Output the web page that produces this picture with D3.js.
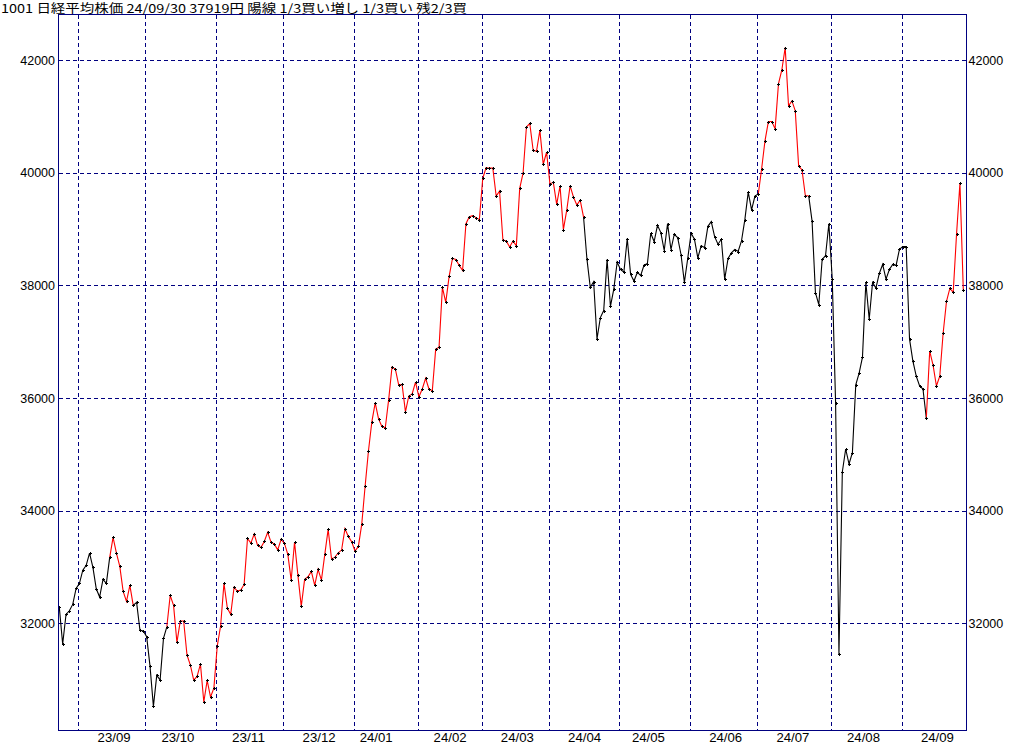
<!DOCTYPE html>
<html>
<head>
<meta charset="utf-8">
<script src="https://cdn.jsdelivr.net/npm/d3@7"></script>
<style>
  html, body { margin: 0; padding: 0; background: #fff; }
  svg { display: block; }
</style>
</head>
<body>
<div id="chart"></div>
<script>
// ---- data ----
const titleText = "1001 日経平均株価 24/09/30 37919円 陽線 1/3買い増し 1/3買い 残2/3買";

// daily closes 2023/08/24 .. 2024/09/30 (trading-day index)
const closes = [
  32279, 31627, 32154, 32218, 32332, 32616, 32705, 32941, 33025, 33243,
  32989, 32609, 32462, 32776, 32705, 33167, 33522, 33243, 33007, 32563,
  32385, 32670, 32314, 32368, 31870, 31858, 31757, 31231, 30520, 31071,
  30988, 31728, 31934, 32492, 32314, 31657, 32036, 32036, 31432, 31254,
  30988, 31053, 31272, 30597, 30982, 30686, 30845, 31591, 31947, 32705,
  32266, 32154, 32634, 32568, 32586, 32687, 33504, 33421, 33581, 33380,
  33344, 33451, 33611, 33439, 33403, 33302, 33486, 33415, 33220, 32764,
  33439, 32847, 32297, 32776, 32822, 32918, 32670, 32954, 32764, 33220,
  33664, 33142, 33167, 33249, 33297, 33675, 33540, 33444, 33279, 33362,
  33758, 34430, 35062, 35575, 35911, 35628, 35493, 35469, 35965, 36549,
  36513, 36230, 36242, 35752, 36035, 36071, 36283, 36018, 36159, 36348,
  36159, 36130, 36867, 36903, 37965, 37699, 38159, 38478, 38460, 38354,
  38266, 39097, 39221, 39239, 39204, 39168, 39900, 40094, 40083, 40083,
  39587, 39676, 38808, 38790, 38684, 38790, 38702, 39723, 39994, 40814,
  40879, 40401, 40384, 40755, 40153, 40366, 39799, 39835, 39440, 39764,
  38991, 39339, 39770, 39569, 39428, 39516, 39215, 38472, 37965, 38065,
  37050, 37428, 37552, 38460, 37628, 37935, 38413, 38283, 38236, 38832,
  38195, 38077, 38230, 38177, 38360, 38389, 38926, 38779, 39068, 38938,
  38620, 39097, 38637, 38909, 38850, 38549, 38053, 38478, 38926, 38820,
  38490, 38702, 38673, 39050, 39133, 38867, 38732, 38820, 38112, 38478,
  38578, 38637, 38602, 38791, 39168, 39658, 39343, 39586, 39627, 40077,
  40574, 40911, 40911, 40781, 41580, 41828, 42225, 41189, 41278, 41100,
  40124, 40053, 39592, 39592, 39142, 37870, 37657, 38462, 38527, 39095,
  38118, 35911, 31449, 34684, 35093, 34826, 35028, 36231, 36442, 36726,
  38053, 37398, 38053, 37953, 38212, 38372, 38112, 38283, 38372, 38354,
  38643, 38690, 38690, 37044, 36655, 36389, 36212, 36159, 35640, 36832,
  36584, 36212, 36389, 37150, 37717, 37947, 37876, 38920, 39817, 37917
];

// holding periods (segment start index ranges, inclusive) drawn in red
const holdRanges = [[15, 21], [32, 155], [208, 222], [258, 268]];

// first trading day index of each month (vertical grid)
const monthStartIdx = [6, 26, 47, 67, 88, 107, 126, 146, 167, 188, 208, 230, 251];
// month labels and the trading-day index they are centred on (~15th)
const monthLabels   = ["23/09","23/10","23/11","23/12","24/01","24/02","24/03","24/04","24/05","24/06","24/07","24/08","24/09"];
const monthLabelIdx = [16, 35, 56, 77, 94, 116, 136, 156, 175, 198, 218, 239, 261];

// price grid / tick values
const priceTicks = [32000, 34000, 36000, 38000, 40000, 42000];

// ---- layout ----
const W = 1024, H = 745;
const plot = { left: 58.5, right: 966.5, top: 14.5, bottom: 730.5 };
const navy = "#000080";
const numFont = "'Liberation Sans', Arial, sans-serif";

const svg = d3.select("#chart").append("svg")
  .attr("width", W).attr("height", H)
  .attr("viewBox", `0 0 ${W} ${H}`);

svg.append("rect").attr("width", W).attr("height", H).attr("fill", "#fff");

const x = d3.scaleLinear().domain([0, closes.length - 1]).range([59.3, 963.3]);
const y = d3.scaleLinear().domain([30100, 42810]).range([730, 14.7]);

const px = v => Math.round(v) + 0.5;

// grid lines
const grid = svg.append("g").attr("stroke", navy).attr("stroke-width", 1)
  .attr("stroke-dasharray", "4,3").attr("shape-rendering", "crispEdges");

grid.selectAll("line.h").data(priceTicks).join("line")
  .attr("class", "h")
  .attr("x1", plot.left).attr("x2", plot.right)
  .attr("y1", d => px(y(d))).attr("y2", d => px(y(d)));

grid.selectAll("line.v").data(monthStartIdx).join("line")
  .attr("class", "v")
  .attr("y1", plot.top).attr("y2", plot.bottom)
  .attr("x1", d => Math.floor(x(d) - 0.7) + 0.5)
  .attr("x2", d => Math.floor(x(d) - 0.7) + 0.5);

// price line segments, colored by holding status
const isHold = i => holdRanges.some(([a, b]) => i >= a && i <= b);
const runs = [];
for (let i = 0; i < closes.length - 1; i++) {
  const c = isHold(i) ? "#ff0000" : "#000000";
  if (runs.length && runs[runs.length - 1].color === c) {
    runs[runs.length - 1].idx.push(i + 1);
  } else {
    runs.push({ color: c, idx: [i, i + 1] });
  }
}
const line = d3.line().x(i => x(i)).y(i => y(closes[i]));
svg.append("g").selectAll("path").data(runs).join("path")
  .attr("d", r => line(r.idx))
  .attr("fill", "none")
  .attr("stroke", r => r.color)
  .attr("stroke-width", 1.1);

// plus markers
svg.append("path")
  .attr("d", closes.map((v, i) => {
    const cx = px(x(i)), cy = px(y(v));
    return `M${cx - 1.5},${cy}h3M${cx},${cy - 1.5}v3`;
  }).join(""))
  .attr("stroke", "#000").attr("stroke-width", 1)
  .attr("shape-rendering", "crispEdges").attr("fill", "none");

// frame
svg.append("rect")
  .attr("x", plot.left).attr("y", plot.top)
  .attr("width", plot.right - plot.left).attr("height", plot.bottom - plot.top)
  .attr("fill", "none").attr("stroke", navy).attr("stroke-width", 1)
  .attr("shape-rendering", "crispEdges");

// y tick labels (both sides)
const yl = svg.append("g").attr("font-family", numFont).attr("font-size", 12.5).attr("fill", "#000");
yl.selectAll("text.l").data(priceTicks).join("text")
  .attr("class", "l")
  .attr("x", 55).attr("y", d => y(d) + 4.6)
  .attr("text-anchor", "end").text(d => d);
yl.selectAll("text.r").data(priceTicks).join("text")
  .attr("class", "r")
  .attr("x", 968.5).attr("y", d => y(d) + 4.6)
  .attr("text-anchor", "start").text(d => d);

// month labels
svg.append("g").attr("font-family", numFont).attr("font-size", 12.5).attr("fill", "#000")
  .selectAll("text").data(monthLabels).join("text")
  .attr("x", (d, i) => x(monthLabelIdx[i]) + 1)
  .attr("y", 742)
  .attr("text-anchor", "middle")
  .attr("textLength", 33).attr("lengthAdjust", "spacingAndGlyphs")
  .text(d => d);

// title
svg.append("text")
  .attr("x", 1).attr("y", 12.5)
  .attr("font-family", "'Noto Sans CJK JP', sans-serif")
  .attr("font-size", 12)
  .attr("textLength", 466).attr("lengthAdjust", "spacingAndGlyphs")
  .attr("fill", "#000")
  .text(titleText);
</script>
</body>
</html>
